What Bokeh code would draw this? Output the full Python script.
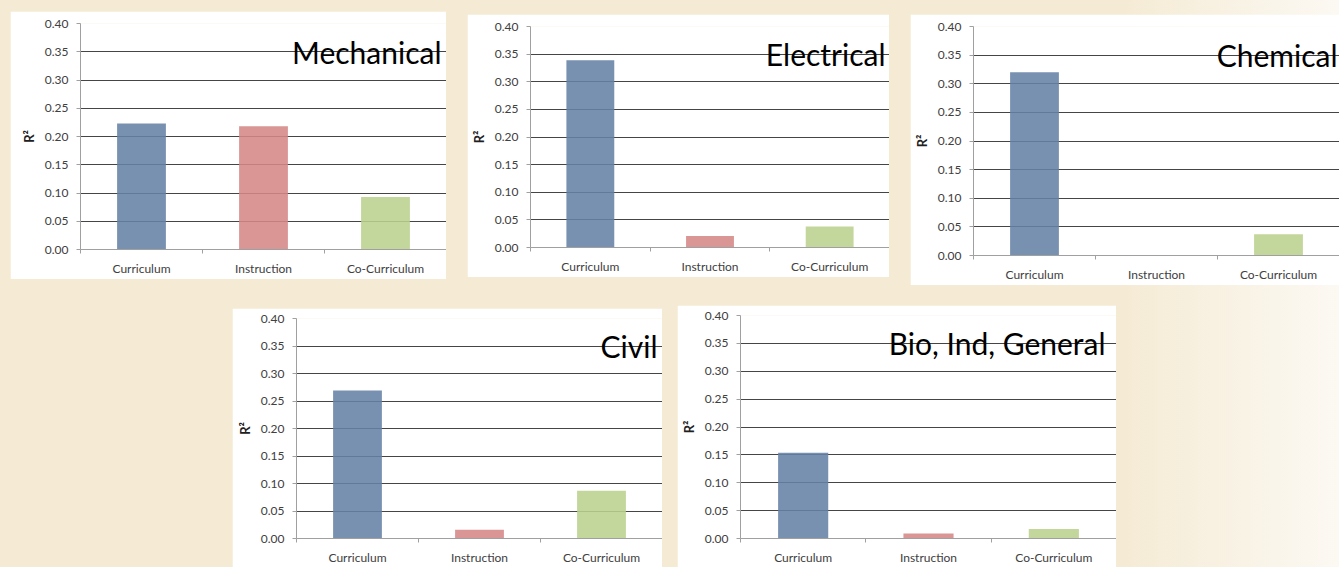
from bokeh.plotting import figure
from bokeh.layouts import row, column
from bokeh.models import Range1d, FixedTicker, NumeralTickFormatter, Label, ColumnDataSource
from bokeh.embed import file_html
from bokeh.resources import INLINE

# ---------------- data ----------------
categories = ["Curriculum", "Instruction", "Co-Curriculum"]
panel_titles = ["Mechanical", "Electrical", "Chemical", "Civil", "Bio, Ind, General"]
mechanical = [0.223, 0.218, 0.093]
electrical = [0.339, 0.021, 0.038]
chemical = [0.320, 0.000, 0.037]
civil = [0.269, 0.016, 0.087]
bio_ind_general = [0.154, 0.009, 0.017]
y_ticks = [0.00, 0.05, 0.10, 0.15, 0.20, 0.25, 0.30, 0.35, 0.40]
y_label = "R²"

# ---------------- styles ----------------
bar_colors = ["#6682A5", "#D48885", "#BBD08D"]
FONT = "Lato"
GRID = "#454545"
AXIS = "#A0A0A0"
TICK_TEXT = "#404040"

# (width, height, border_left, border_top, border_bottom, margin(top,right,bottom,left), title x offset)
geom = [
    (436, 268, 70, 12, 30, (11, 0, 0, 10), -5),
    (422, 263, 61, 11, 29, (14, 0, 0, 21), -4),
    (429, 271, 62, 10, 29, (14, 0, 0, 21), -2),
    (430, 259, 64, 8, 23, (23, 0, 0, 232), -5),
    (439, 262, 61, 10, 20, (20, 0, 0, 15), -11),
]


def make_panel(title, values, g):
    w, h, bl, bt, bb, margin, toff = g
    n = len(categories)
    p = figure(width=w, height=h, output_backend="svg", toolbar_location=None,
               x_range=Range1d(0, 2 * n), y_range=Range1d(y_ticks[0], y_ticks[-1]),
               min_border_left=bl, min_border_top=bt, min_border_bottom=bb, min_border_right=0,
               background_fill_color="white", border_fill_color="white",
               outline_line_color=None, margin=margin)
    xs = [2 * i + 1 for i in range(n)]
    src = ColumnDataSource(dict(x=xs, top=values, color=bar_colors))
    p.vbar(x="x", top="top", bottom=0, width=0.8, fill_color="color", fill_alpha=0.88,
           line_color=None, source=src)

    # x axis: labels at category centres, small ticks at category boundaries
    p.xaxis.ticker = FixedTicker(ticks=xs, minor_ticks=list(range(0, 2 * n + 1, 2)))
    p.xaxis.major_label_overrides = {x: c for x, c in zip(xs, categories)}
    p.xaxis.major_tick_line_color = None
    p.xaxis.major_tick_out = 0
    p.xaxis.major_tick_in = 0
    p.xaxis.minor_tick_out = 4
    p.xaxis.minor_tick_in = 0
    p.xaxis.minor_tick_line_color = AXIS
    p.xaxis.axis_line_color = AXIS
    p.xaxis.major_label_standoff = 7
    p.xaxis.major_label_text_font = FONT
    p.xaxis.major_label_text_font_size = "12px"
    p.xaxis.major_label_text_color = TICK_TEXT

    # y axis
    p.yaxis.ticker = FixedTicker(ticks=y_ticks, minor_ticks=[])
    p.yaxis.formatter = NumeralTickFormatter(format="0.00")
    p.yaxis.major_tick_out = 4
    p.yaxis.major_tick_in = 0
    p.yaxis.major_tick_line_color = AXIS
    p.yaxis.minor_tick_line_color = None
    p.yaxis.axis_line_color = AXIS
    p.yaxis.major_label_standoff = 8
    p.yaxis.major_label_text_font = FONT
    p.yaxis.major_label_text_font_size = "12px"
    p.yaxis.major_label_text_color = TICK_TEXT
    p.yaxis.axis_label = y_label
    p.yaxis.axis_label_text_font = FONT
    p.yaxis.axis_label_text_font_size = "13px"
    p.yaxis.axis_label_text_font_style = "bold"
    p.yaxis.axis_label_text_color = "#202020"
    p.yaxis.axis_label_standoff = 5

    p.xgrid.visible = False
    p.ygrid.grid_line_color = GRID
    p.ygrid.grid_line_width = 1

    p.add_layout(Label(x=2 * n, y=y_ticks[-2], x_offset=toff, text=title,
                       text_align="right", text_baseline="alphabetic",
                       text_font=FONT, text_font_size="30px", text_color="black"))
    return p


series = [mechanical, electrical, chemical, civil, bio_ind_general]
panels = [make_panel(t, v, g) for t, v, g in zip(panel_titles, series, geom)]

layout = column(row(panels[0], panels[1], panels[2]), row(panels[3], panels[4]))

html = file_html(layout, INLINE, title="R2 by discipline")
css = ("<style>html,body{margin:0;padding:0;overflow:hidden;"
       "background:linear-gradient(to right,#F5EBD5 0%,#F5EBD5 84%,#FCF9F3 100%);}</style>")
html = html.replace("</head>", css + "</head>", 1)
open("out.html", "w").write(html)
